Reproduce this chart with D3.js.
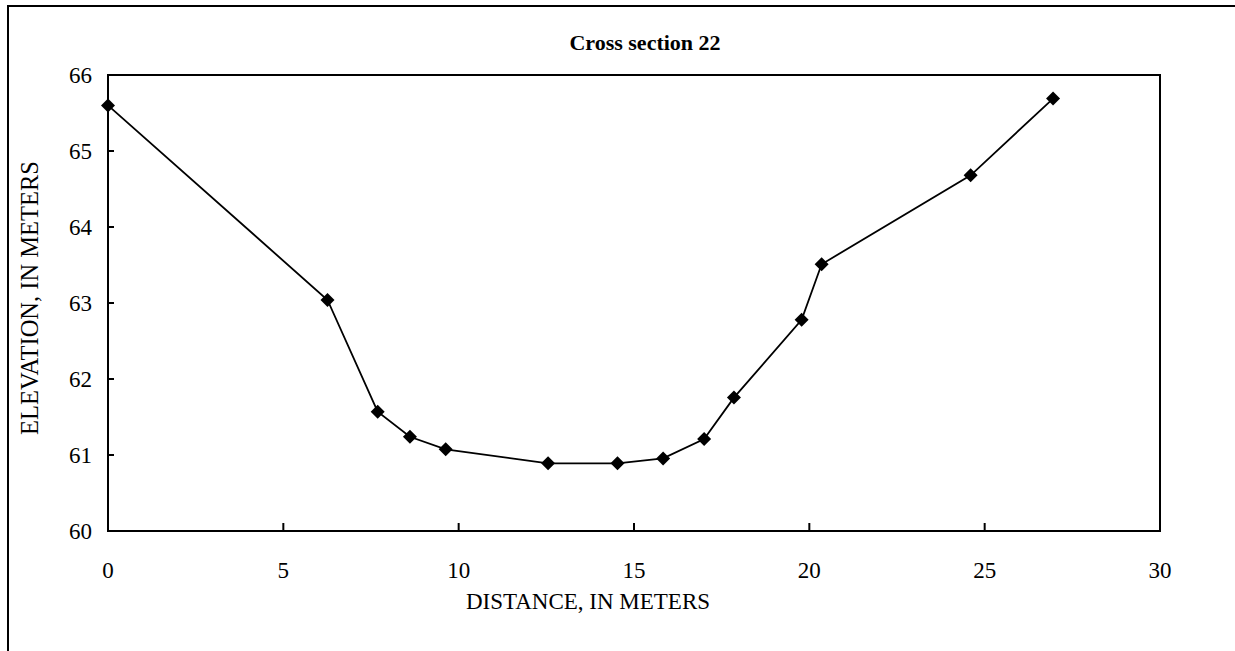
<!DOCTYPE html>
<html><head><meta charset="utf-8">
<script src="https://cdn.jsdelivr.net/npm/d3@7"></script>
<style>
html,body{margin:0;padding:0;background:#fff;}
text{font-family:"Liberation Serif","Times New Roman",serif;fill:#000;}
</style></head>
<body>
<svg id="chart" width="1235" height="651"></svg>
<script>
const distance = [0, 6.26, 7.69, 8.61, 9.63, 12.55, 14.53, 15.83, 17.0, 17.85, 19.78, 20.35, 24.6, 26.95];
const elevation = [65.6, 63.04, 61.57, 61.24, 61.075, 60.89, 60.89, 60.955, 61.21, 61.755, 62.78, 63.51, 64.68, 65.69];
const xTicks = [0, 5, 10, 15, 20, 25, 30];
const yTicks = [60, 61, 62, 63, 64, 65, 66];
const title = "Cross section 22";
const xTitle = "DISTANCE, IN METERS";
const yTitle = "ELEVATION, IN METERS";

const svg = d3.select("#chart");
const L = 108, R = 1160, T = 75, B = 531;
const x = d3.scaleLinear().domain([0, 30]).range([L, R]);
const y = d3.scaleLinear().domain([60, 66]).range([B, T]);

// outer frame
svg.append("rect").attr("x", 8).attr("y", 6).attr("width", 1300).attr("height", 700)
  .attr("fill", "none").attr("stroke", "#000").attr("stroke-width", 2);

// plot frame
svg.append("rect").attr("x", L).attr("y", T).attr("width", R - L).attr("height", B - T)
  .attr("fill", "none").attr("stroke", "#000").attr("stroke-width", 2);

// inward ticks
svg.append("g").selectAll("line").data(xTicks.filter(d => d > 0 && d < 30)).join("line")
  .attr("x1", d => x(d)).attr("x2", d => x(d)).attr("y1", B).attr("y2", B - 8)
  .attr("stroke", "#000").attr("stroke-width", 2);
svg.append("g").selectAll("line").data(yTicks.filter(d => d > 60 && d < 66)).join("line")
  .attr("y1", d => y(d)).attr("y2", d => y(d)).attr("x1", L).attr("x2", L + 6)
  .attr("stroke", "#000").attr("stroke-width", 2);

// tick labels
svg.append("g").selectAll("text").data(xTicks).join("text")
  .attr("x", d => x(d)).attr("y", 570).attr("text-anchor", "middle")
  .attr("dominant-baseline", "central").style("font-size", "23px").text(d => d);
svg.append("g").selectAll("text").data(yTicks).join("text")
  .attr("x", 92).attr("y", d => y(d)).attr("text-anchor", "end")
  .attr("dominant-baseline", "central").style("font-size", "23px").text(d => d);

// titles
svg.append("text").attr("x", 645).attr("y", 42).attr("text-anchor", "middle")
  .attr("dominant-baseline", "central").style("font-size", "22px").style("font-weight", "bold").text(title);
svg.append("text").attr("x", 588).attr("y", 601).attr("text-anchor", "middle")
  .attr("dominant-baseline", "central").style("font-size", "23px").text(xTitle);
svg.append("text").attr("transform", "translate(29,298) rotate(-90)").attr("text-anchor", "middle")
  .attr("dominant-baseline", "central").style("font-size", "24.5px").text(yTitle);

// line
const pts = distance.map((d, i) => [d, elevation[i]]);
svg.append("path").datum(pts)
  .attr("d", d3.line().x(d => x(d[0])).y(d => y(d[1])))
  .attr("fill", "none").attr("stroke", "#000").attr("stroke-width", 1.8);

// diamond markers
const sym = d3.symbol().type(d3.symbolSquare).size(98);
svg.append("g").selectAll("path").data(pts).join("path")
  .attr("transform", d => `translate(${x(d[0])},${y(d[1])}) rotate(45)`)
  .attr("d", sym).attr("fill", "#000");
</script>
</body></html>
